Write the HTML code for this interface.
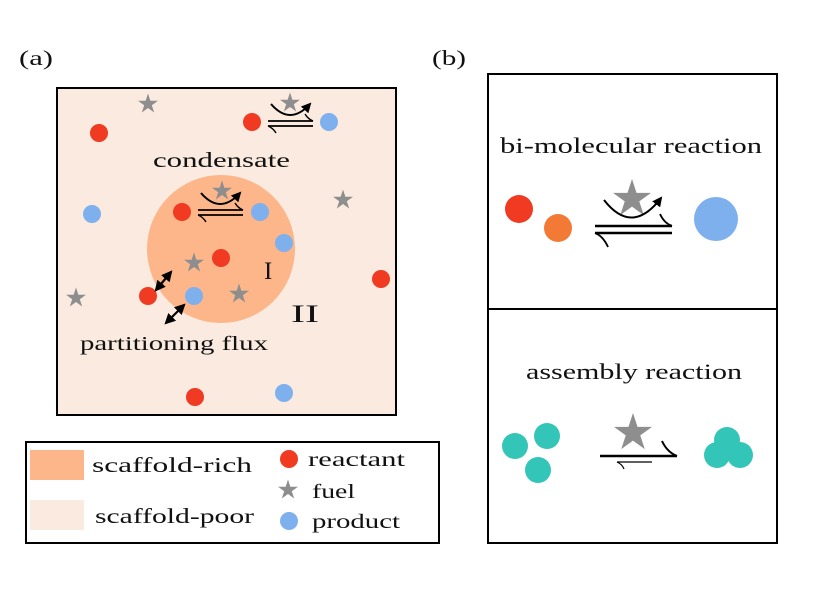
<!DOCTYPE html>
<html><head><meta charset="utf-8"><style>body{margin:0;background:#fff}svg{display:block}text{font-family:"Liberation Serif",serif;fill:#111}</style></head><body>
<svg width="830" height="593" viewBox="0 0 830 593" xmlns="http://www.w3.org/2000/svg">
<defs>
<polygon id="s" points="0,-1 0.225,-0.309 0.951,-0.309 0.363,0.118 0.588,0.809 0,0.382 -0.588,0.809 -0.363,0.118 -0.951,-0.309 -0.225,-0.309" fill="#8e8e8e"/>
<marker id="ah" viewBox="0 0 10 10" refX="8" refY="5" markerWidth="5" markerHeight="5" orient="auto-start-reverse"><path d="M0,0 L10,5 L0,10 z" fill="#000"/></marker>
<g id="rx">
<path d="M0,0 H45 M0,5 H45" stroke="#000" stroke-width="1.8" fill="none"/>
<path d="M45,0 Q40,-2 37,-7" stroke="#000" stroke-width="1.4" fill="none"/>
<path d="M0,5 Q5,7 8,12" stroke="#000" stroke-width="1.4" fill="none"/>
<path d="M3,-17 Q22,5 42,-17" stroke="#000" stroke-width="2" fill="none" marker-end="url(#ah)"/>
</g>
</defs>
<text x="19" y="65" font-size="21" textLength="34" lengthAdjust="spacingAndGlyphs">(a)</text>
<text x="432" y="65" font-size="21" textLength="34" lengthAdjust="spacingAndGlyphs">(b)</text>
<rect x="57" y="88" width="339" height="327" fill="#faeadf" stroke="#000" stroke-width="2"/>
<circle cx="221" cy="249" r="74" fill="#fdb68a"/>
<g>
<use href="#s" transform="translate(148,104) scale(10.5)"/>
<use href="#s" transform="translate(290,103) scale(10.5)"/>
<use href="#s" transform="translate(343,200) scale(10.5)"/>
<use href="#s" transform="translate(76,298) scale(10.5)"/>
<use href="#s" transform="translate(194,263) scale(10.5)"/>
<use href="#s" transform="translate(239,294) scale(10.5)"/>
<use href="#s" transform="translate(222,191) scale(10.5)"/>
</g>
<g fill="#f03a22">
<circle cx="99" cy="133" r="9"/><circle cx="252" cy="122" r="9"/><circle cx="182" cy="212" r="9"/><circle cx="221" cy="258" r="9"/><circle cx="148" cy="296" r="9"/><circle cx="381" cy="279" r="9"/><circle cx="195" cy="397" r="9"/>
</g>
<g fill="#7eb0ee">
<circle cx="329" cy="122" r="9"/><circle cx="92" cy="214" r="9"/><circle cx="260" cy="212" r="9"/><circle cx="284" cy="243" r="9"/><circle cx="194" cy="296" r="9"/><circle cx="284" cy="393" r="9"/>
</g>
<use href="#rx" transform="translate(268,121)"/>
<use href="#rx" transform="translate(198,210)"/>
<path d="M156,290 L171,272" stroke="#000" stroke-width="2.2" marker-start="url(#ah)" marker-end="url(#ah)"/>
<path d="M166,323 L184,305" stroke="#000" stroke-width="2.2" marker-start="url(#ah)" marker-end="url(#ah)"/>
<text x="153" y="167" font-size="21" textLength="137" lengthAdjust="spacingAndGlyphs">condensate</text>
<text x="264" y="279" font-size="25">I</text>
<text x="291" y="322" font-size="25" textLength="28" lengthAdjust="spacingAndGlyphs">II</text>
<text x="80" y="350" font-size="20" textLength="188" lengthAdjust="spacingAndGlyphs">partitioning flux</text>
<rect x="26" y="442" width="413" height="101" fill="#fff" stroke="#000" stroke-width="2"/>
<rect x="30" y="450" width="54" height="30" fill="#fdb68a"/>
<rect x="30" y="500" width="54" height="30" fill="#faeadf"/>
<text x="92" y="472" font-size="21" textLength="160" lengthAdjust="spacingAndGlyphs">scaffold-rich</text>
<text x="95" y="523" font-size="21" textLength="159" lengthAdjust="spacingAndGlyphs">scaffold-poor</text>
<circle cx="289" cy="459" r="9" fill="#f03a22"/>
<use href="#s" transform="translate(288,490) scale(10.5)"/>
<circle cx="289" cy="521" r="9" fill="#7eb0ee"/>
<text x="308" y="466" font-size="20" textLength="97" lengthAdjust="spacingAndGlyphs">reactant</text>
<text x="312" y="498" font-size="20" textLength="43" lengthAdjust="spacingAndGlyphs">fuel</text>
<text x="312" y="528" font-size="20" textLength="88" lengthAdjust="spacingAndGlyphs">product</text>
<rect x="488" y="74" width="289" height="469" fill="#fff" stroke="#000" stroke-width="2"/>
<line x1="488" y1="309" x2="777" y2="309" stroke="#000" stroke-width="2"/>
<text x="500" y="153" font-size="22" textLength="262" lengthAdjust="spacingAndGlyphs">bi-molecular reaction</text>
<text x="526" y="379" font-size="22" textLength="216" lengthAdjust="spacingAndGlyphs">assembly reaction</text>
<circle cx="519" cy="209" r="14" fill="#f03a22"/>
<circle cx="558" cy="228" r="14" fill="#f37a35"/>
<circle cx="716" cy="219" r="22" fill="#7eb0ee"/>
<use href="#s" transform="translate(632,199) scale(20)"/>
<path d="M595,226 H672 M595,233 H672" stroke="#000" stroke-width="2.4" fill="none"/>
<path d="M672,226 Q664,223 660,214" stroke="#000" stroke-width="1.8" fill="none"/>
<path d="M595,233 Q603,236 608,247" stroke="#000" stroke-width="1.8" fill="none"/>
<path d="M604,200 Q632,236 661,198" stroke="#000" stroke-width="2" fill="none" marker-end="url(#ah)"/>
<g fill="#33c6b8">
<circle cx="515" cy="446" r="13"/><circle cx="547" cy="436" r="13"/><circle cx="538" cy="470" r="13"/>
<circle cx="727" cy="440" r="13"/><circle cx="717" cy="455" r="13"/><circle cx="740" cy="455" r="13"/>
</g>
<use href="#s" transform="translate(633,433) scale(20)"/>
<path d="M600,456 H677" stroke="#000" stroke-width="2.5" fill="none"/>
<path d="M677,456 Q667,452 662,441" stroke="#000" stroke-width="2" fill="none"/>
<path d="M617,462 H652" stroke="#000" stroke-width="1.3" fill="none"/>
<path d="M617,462 Q622,464 624,469" stroke="#000" stroke-width="1.2" fill="none"/>
</svg>
</body></html>
